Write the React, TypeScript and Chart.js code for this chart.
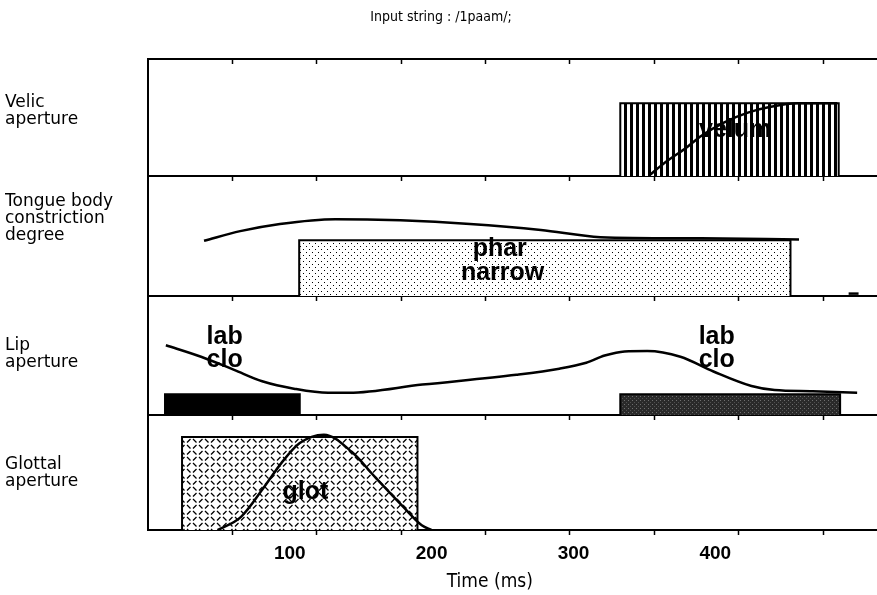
import React, { useEffect, useRef } from "react";
import { Chart, registerables } from "chart.js";

Chart.register(...registerables);

// ---------- text ----------
const TITLE = "Input string : /1paam/;";
const X_TITLE = "Time (ms)";
const X_TITLE_AT = 241; // ms, horizontal centre of the axis title
const X_MAX = 514;
const X_LABEL_TICKS = [100, 200, 300, 400];
const TICK_MARKS = [59.5, 119, 178.5, 238, 297.5, 357, 416.5, 476];

const PANEL_IDS = ["yVel", "yTon", "yLip", "yGlo"];
const PANEL_LABELS = [
  ["Velic", "aperture"],
  ["Tongue body", "constriction", "degree"],
  ["Lip", "aperture"],
  ["Glottal", "aperture"],
];
const PANEL_LABEL_POS = [0.555, 0.645, 0.515, 0.495];
const PANEL_WEIGHTS = [117, 120, 119, 115];

// ---------- velic aperture ----------
const VELUM_BOX_T = [333, 333, 487, 487];
const VELUM_BOX_V = [0, 0.62, 0.62, 0];
const VELUM_T = [353, 363, 380, 390, 406, 423, 439, 458, 486];
const VELUM_V = [0, 0.1, 0.245, 0.34, 0.455, 0.54, 0.59, 0.62, 0.62];

// ---------- tongue body constriction degree ----------
const PHAR_BOX_T = [106.6, 106.6, 453, 453];
const PHAR_BOX_V = [0, 0.465, 0.465, 0];
const TONGUE_T = [39.5, 65, 93, 132, 178, 227, 277, 319, 390, 459];
const TONGUE_V = [0.46, 0.54, 0.6, 0.64, 0.63, 0.6, 0.55, 0.49, 0.48, 0.47];
const TONGUE_TAIL_T = [494, 501];
const TONGUE_TAIL_V = [0.02, 0.02];

// ---------- lip aperture ----------
const LAB1_BOX_T = [12, 12, 107, 107];
const LAB1_BOX_V = [0, 0.176, 0.176, 0];
const LAB2_BOX_T = [333, 333, 488, 488];
const LAB2_BOX_V = [0, 0.176, 0.176, 0];
const LIP_T = [12.6, 37.4, 60.7, 80.5, 103.7, 127, 141.8, 193.4, 259.7, 290, 309, 322, 336, 352, 375.4, 398.7, 425.5, 441.8, 468.6, 500];
const LIP_V = [0.587, 0.49, 0.38, 0.284, 0.22, 0.187, 0.187, 0.256, 0.339, 0.39, 0.44, 0.5, 0.535, 0.538, 0.49, 0.366, 0.244, 0.21, 0.2, 0.187];

// ---------- glottal aperture ----------
const GLOT_BOX_T = [24, 24, 190, 190];
const GLOT_BOX_V = [0, 0.81, 0.81, 0];
const GLOT_T = [49, 65.6, 82, 94, 107, 124, 143.6, 160, 180, 193, 200];
const GLOT_V = [0, 0.116, 0.377, 0.583, 0.757, 0.83, 0.681, 0.463, 0.203, 0.043, 0];

// ---------- gesture labels ----------
const NOTE_TEXT = ["velum", "phar", "narrow", "lab", "clo", "lab", "clo", "glot"];
const NOTE_T = [414, 248, 250, 54, 54, 401, 401, 111];
const NOTE_V = [0.39, 0.39, 0.19, 0.655, 0.465, 0.655, 0.465, 0.33];
const NOTE_PANEL = ["yVel", "yTon", "yTon", "yLip", "yLip", "yLip", "yLip", "yGlo"];

const LABEL_FONT = '"DejaVu Sans", "Noto Sans", sans-serif';
const NARROW_FONT = '"Liberation Sans Narrow", "DejaVu Sans Condensed", "Liberation Sans", sans-serif';
const BOLD_FONT = '"Liberation Sans", Arial, sans-serif';

const pts = (T: number[], V: number[]) => T.map((t, i) => ({ x: t, y: V[i] }));

function makeTile(w: number, h: number, draw: (g: CanvasRenderingContext2D) => void) {
  const c = document.createElement("canvas");
  c.width = w;
  c.height = h;
  const g = c.getContext("2d") as CanvasRenderingContext2D;
  draw(g);
  return c;
}

const notesPlugin = {
  id: "notes",
  afterDatasetsDraw(chart: any) {
    const ctx = chart.ctx;
    const xs = chart.scales.x;
    ctx.save();
    ctx.font = `bold 25px ${BOLD_FONT}`;
    ctx.fillStyle = "#000";
    ctx.textAlign = "center";
    ctx.textBaseline = "middle";
    NOTE_TEXT.forEach((s, i) => {
      const ys = chart.scales[NOTE_PANEL[i]];
      ctx.fillText(s, xs.getPixelForValue(NOTE_T[i]), ys.getPixelForValue(NOTE_V[i]));
    });
    ctx.restore();
  },
  afterDraw(chart: any) {
    const ctx = chart.ctx;
    const xs = chart.scales.x;
    ctx.save();
    ctx.font = `19px ${NARROW_FONT}`;
    ctx.fillStyle = "#000";
    ctx.textAlign = "center";
    ctx.textBaseline = "middle";
    ctx.fillText(X_TITLE, xs.getPixelForValue(X_TITLE_AT), chart.height - 13);
    ctx.restore();
  },
};

export default function App() {
  const ref = useRef<HTMLCanvasElement | null>(null);

  useEffect(() => {
    const canvas = ref.current!;
    const ctx = canvas.getContext("2d") as CanvasRenderingContext2D;

    const stripes = ctx.createPattern(
      makeTile(6, 6, (g) => {
        g.fillStyle = "#fff";
        g.fillRect(0, 0, 6, 6);
        g.fillStyle = "#000";
        g.fillRect(0, 0, 3, 6);
      }),
      "repeat"
    );
    const dots = ctx.createPattern(
      makeTile(6, 6, (g) => {
        g.fillStyle = "#fff";
        g.fillRect(0, 0, 6, 6);
        g.fillStyle = "#000";
        g.fillRect(0, 0, 1, 1);
        g.fillRect(3, 3, 1, 1);
      }),
      "repeat"
    );
    const diamond = ctx.createPattern(
      makeTile(12, 12, (g) => {
        g.fillStyle = "#fff";
        g.fillRect(0, 0, 12, 12);
        g.strokeStyle = "#000";
        g.lineWidth = 1.3;
        g.beginPath();
        g.moveTo(1, 4.5); g.lineTo(4.5, 1);
        g.moveTo(7, 1); g.lineTo(10.5, 4.5);
        g.moveTo(1, 7); g.lineTo(4.5, 10.5);
        g.moveTo(7, 10.5); g.lineTo(10.5, 7);
        g.stroke();
      }),
      "repeat"
    );
    const darkStipple = ctx.createPattern(
      makeTile(4, 4, (g) => {
        g.fillStyle = "#2a2a2a";
        g.fillRect(0, 0, 4, 4);
        g.fillStyle = "#707070";
        g.fillRect(0, 0, 1, 1);
        g.fillStyle = "#505050";
        g.fillRect(2, 2, 1, 1);
      }),
      "repeat"
    );

    const box = (T: number[], V: number[], yAxisID: string, bg: any) => ({
      data: pts(T, V),
      yAxisID,
      xAxisID: "x",
      backgroundColor: bg,
      borderColor: "#000",
      borderWidth: 2,
      pointRadius: 0,
      fill: "origin",
      tension: 0,
      order: 2,
    });
    const curve = (T: number[], V: number[], yAxisID: string) => ({
      data: pts(T, V),
      yAxisID,
      xAxisID: "x",
      borderColor: "#000",
      borderWidth: 2.5,
      pointRadius: 0,
      fill: false,
      cubicInterpolationMode: "monotone",
      order: 1,
    });

    const xTickAxis = (yId: string, val: number) => ({
      type: "linear",
      axis: "x",
      position: { [yId]: val },
      min: 0,
      max: X_MAX,
      afterBuildTicks: (s: any) => {
        s.ticks = TICK_MARKS.map((v) => ({ value: v }));
      },
      ticks: { display: false },
      grid: { drawOnChartArea: false, drawTicks: true, tickLength: 4, tickColor: "#000", tickWidth: 1.5 },
      border: { display: true, color: "#000", width: 2 },
    });

    const yPanel = (i: number) => ({
      type: "linear",
      position: "left",
      stack: "panels",
      stackWeight: PANEL_WEIGHTS[i],
      weight: 4 - i,
      min: 0,
      max: 1,
      afterBuildTicks: (s: any) => {
        s.ticks = [{ value: PANEL_LABEL_POS[i] }];
      },
      afterFit: (s: any) => {
        s.width = 143;
      },
      ticks: {
        callback: () => PANEL_LABELS[i],
        crossAlign: "far",
        color: "#000",
        padding: 0,
        font: { family: LABEL_FONT, size: 17, lineHeight: 1.0 },
      },
      grid: { display: false, drawTicks: false },
      border: { display: true, color: "#000", width: 2 },
    });

    const scales: any = {
      x: {
        type: "linear",
        position: "bottom",
        min: 0,
        max: X_MAX,
        afterBuildTicks: (s: any) => {
          s.ticks = X_LABEL_TICKS.map((v) => ({ value: v }));
        },
        ticks: {
          color: "#000",
          padding: 12,
          maxRotation: 0,
          autoSkip: false,
          font: { family: BOLD_FONT, size: 19, weight: "bold" },
        },
        grid: { display: false, drawTicks: false },
        border: { display: false },
        title: { display: false },
      },
      xT0: xTickAxis("yVel", 1),
      xT1: xTickAxis("yVel", 0),
      xT2: xTickAxis("yTon", 0),
      xT3: xTickAxis("yLip", 0),
      xT4: xTickAxis("yGlo", 0),
    };
    PANEL_IDS.forEach((id, i) => {
      scales[id] = yPanel(i);
    });

    const chart = new Chart(ctx, {
      type: "line",
      data: {
        datasets: [
          box(VELUM_BOX_T, VELUM_BOX_V, "yVel", stripes),
          curve(VELUM_T, VELUM_V, "yVel"),
          box(PHAR_BOX_T, PHAR_BOX_V, "yTon", dots),
          curve(TONGUE_T, TONGUE_V, "yTon"),
          curve(TONGUE_TAIL_T, TONGUE_TAIL_V, "yTon"),
          box(LAB1_BOX_T, LAB1_BOX_V, "yLip", "#000"),
          box(LAB2_BOX_T, LAB2_BOX_V, "yLip", darkStipple),
          curve(LIP_T, LIP_V, "yLip"),
          box(GLOT_BOX_T, GLOT_BOX_V, "yGlo", diamond),
          curve(GLOT_T, GLOT_V, "yGlo"),
        ] as any,
      },
      options: {
        responsive: false,
        animation: false,
        devicePixelRatio: 1,
        layout: { padding: { left: 5, right: 0, top: 0, bottom: 18 } },
        plugins: {
          legend: { display: false },
          tooltip: { enabled: false },
          title: {
            display: true,
            text: TITLE,
            color: "#000",
            font: { family: NARROW_FONT, size: 14, weight: "normal" },
            padding: { top: 9, bottom: 33 },
          },
        },
        scales,
      } as any,
      plugins: [notesPlugin],
    });

    return () => chart.destroy();
  }, []);

  return (
    <div style={{ position: "fixed", left: 0, top: 0, width: 877, height: 595, background: "#fff" }}>
      <canvas ref={ref} width={877} height={595} style={{ display: "block" }} />
    </div>
  );
}
